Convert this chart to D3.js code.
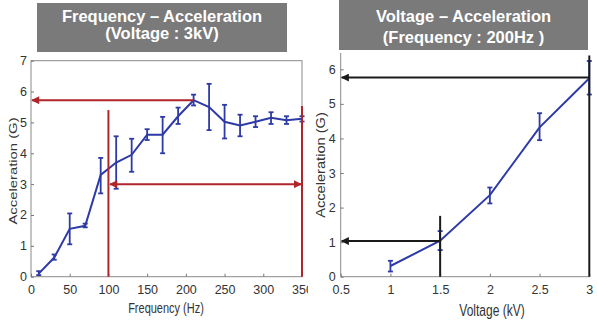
<!DOCTYPE html>
<html>
<head>
<meta charset="utf-8">
<script src="https://cdn.jsdelivr.net/npm/d3@7"></script>
<style>
  body { margin: 0; background: #fff; }
  svg text { font-family: "Liberation Sans", Arial, sans-serif; fill: #333; }
  svg text.title { font-weight: bold; fill: #fff; }
</style>
</head>
<body>
<svg id="chart" width="597" height="327"></svg>
<script>
// Frequency sweep at 3 kV
var freq = [10, 30, 50, 70, 90, 110, 130, 150, 170, 190, 210, 230, 250, 270, 290, 310, 330, 350];
var freqAcc = [0.1, 0.62, 1.55, 1.65, 3.3, 3.7, 3.95, 4.6, 4.6, 5.2, 5.72, 5.5, 5.02, 4.9, 5.02, 5.15, 5.07, 5.12];
var freqLo = [0.05, 0.55, 1.05, 1.6, 2.7, 2.85, 3.4, 4.43, 4.0, 4.95, 5.55, 4.75, 4.48, 4.55, 4.85, 4.95, 4.95, 5.03];
var freqHi = [0.18, 0.72, 2.05, 1.72, 3.85, 4.55, 4.47, 4.78, 5.18, 5.48, 5.9, 6.25, 5.57, 5.25, 5.2, 5.33, 5.2, 5.2];
var freqTicks = [0, 50, 100, 150, 200, 250, 300, 350];
var accTicksL = [0, 1, 2, 3, 4, 5, 6, 7];

// Voltage sweep at 200 Hz
var volt = [1, 1.5, 2, 2.5, 3];
var voltAcc = [0.31, 1.04, 2.36, 4.32, 5.74];
var voltLo = [0.15, 0.77, 2.12, 3.95, 5.27];
var voltHi = [0.46, 1.32, 2.58, 4.73, 6.24];
var voltTicks = [0.5, 1, 1.5, 2, 2.5, 3];
var accTicksR = [0, 1, 2, 3, 4, 5, 6];

var svg = d3.select("#chart");
var blue = "#2e3aa6", red = "#b0242a", black = "#1a1a1a";

var defs = svg.append("defs");
// left panel is cut off where the right one starts (the "350" label is cropped)
defs.append("clipPath").attr("id", "clipL")
  .append("rect").attr("x", 0).attr("y", 0).attr("width", 308).attr("height", 327);

// arrow heads
function marker(id, color) {
  defs.append("marker")
    .attr("id", id)
    .attr("viewBox", "0 0 10 10")
    .attr("refX", 9).attr("refY", 5)
    .attr("markerWidth", 4.5).attr("markerHeight", 4)
    .attr("orient", "auto-start-reverse")
    .append("path").attr("d", "M0,0L10,5L0,10z").attr("fill", color);
}
marker("arRed", red);
marker("arBlack", black);

// title boxes
function titleBox(x, y, w, h, lines, base, gap) {
  svg.append("rect").attr("x", x).attr("y", y).attr("width", w).attr("height", h).attr("fill", "#7a7a7a");
  lines.forEach(function(t, i) {
    svg.append("text").attr("class", "title")
      .attr("x", x + w / 2).attr("y", base + i * gap)
      .attr("text-anchor", "middle").style("font-size", "16.5px")
      .text(t);
  });
}
titleBox(37, 3, 250, 49, ["Frequency \u2013 Acceleration", "(Voltage : 3kV)"], 21.7, 17.6);
titleBox(339, 0, 249, 50, ["Voltage \u2013 Acceleration", "(Frequency : 200Hz )"], 21.7, 21);

function drawErr(g, xs, ys, lo, hi, x, y) {
  var data = xs.map(function(d, i) { return {x: d, y: ys[i], lo: lo[i], hi: hi[i]}; });
  var line = d3.line().x(function(d) { return x(d.x); }).y(function(d) { return y(d.y); });
  g.append("path").datum(data).attr("d", line)
    .attr("fill", "none").attr("stroke", blue).attr("stroke-width", 2);
  var eb = g.selectAll(".eb").data(data).enter().append("g");
  eb.append("line")
    .attr("x1", function(d) { return x(d.x); }).attr("x2", function(d) { return x(d.x); })
    .attr("y1", function(d) { return y(d.lo); }).attr("y2", function(d) { return y(d.hi); })
    .attr("stroke", blue).attr("stroke-width", 1.8);
  ["lo", "hi"].forEach(function(k) {
    eb.append("line")
      .attr("x1", function(d) { return x(d.x) - 2.5; }).attr("x2", function(d) { return x(d.x) + 2.5; })
      .attr("y1", function(d) { return y(d[k]); }).attr("y2", function(d) { return y(d[k]); })
      .attr("stroke", blue).attr("stroke-width", 1.8);
  });
}

function styleAxis(a) {
  a.select(".domain").remove();
  a.selectAll("line").attr("stroke", "#777");
  a.selectAll("text").style("font-size", "12.5px").attr("fill", "#333");
}

// ---- left chart ----
var xL = d3.scaleLinear().domain([0, 350]).range([31, 302]);
var yL = d3.scaleLinear().domain([0, 7]).range([276.7, 60.7]);
var gL = svg.append("g").attr("clip-path", "url(#clipL)");

gL.append("rect").attr("x", 31).attr("y", 60.7).attr("width", 271).attr("height", 216)
  .attr("fill", "none").attr("stroke", "#8a8a8a").attr("stroke-width", 1);

gL.append("g").attr("transform", "translate(0,276.7)")
  .call(d3.axisBottom(xL).tickValues(freqTicks).tickSize(-3).tickPadding(8).tickFormat(d3.format("d")))
  .call(styleAxis);
gL.append("g").attr("transform", "translate(31,0)")
  .call(d3.axisLeft(yL).tickValues(accTicksL).tickSize(-3).tickPadding(4).tickFormat(d3.format("d")))
  .call(styleAxis);

gL.append("text").attr("transform", "translate(166,313) scale(1,1.35)").attr("text-anchor", "middle")
  .style("font-size", "11px").text("Frequency (Hz)");
gL.append("text").attr("transform", "translate(17,171) scale(1,1.35) rotate(-90)").attr("text-anchor", "middle")
  .style("font-size", "11px").text("Acceleration (G)");

drawErr(gL, freq, freqAcc, freqLo, freqHi, xL, yL);

// red guides
gL.append("line").attr("x1", xL(210)).attr("x2", xL(0) + 1).attr("y1", yL(5.72)).attr("y2", yL(5.72))
  .attr("stroke", red).attr("stroke-width", 2).attr("marker-end", "url(#arRed)");
gL.append("line").attr("x1", xL(100)).attr("x2", xL(100)).attr("y1", yL(0)).attr("y2", yL(5.4))
  .attr("stroke", red).attr("stroke-width", 2);
gL.append("line").attr("x1", xL(350)).attr("x2", xL(350)).attr("y1", yL(0)).attr("y2", yL(5.53))
  .attr("stroke", red).attr("stroke-width", 2);
gL.append("line").attr("x1", xL(102)).attr("x2", xL(349)).attr("y1", yL(3)).attr("y2", yL(3))
  .attr("stroke", red).attr("stroke-width", 2)
  .attr("marker-start", "url(#arRed)").attr("marker-end", "url(#arRed)");

// ---- right chart ----
var xR = d3.scaleLinear().domain([0.5, 3]).range([340.7, 589.3]);
var yR = d3.scaleLinear().domain([0, 6]).range([276.7, 69.3]);
var gR = svg.append("g");

gR.append("line").attr("x1", 340.7).attr("x2", 340.7).attr("y1", 53).attr("y2", 276.7).attr("stroke", "#8a8a8a");
gR.append("line").attr("x1", 340.7).attr("x2", 590).attr("y1", 276.7).attr("y2", 276.7).attr("stroke", "#8a8a8a");

gR.append("g").attr("transform", "translate(0,276.7)")
  .call(d3.axisBottom(xR).tickValues(voltTicks).tickSize(-3).tickPadding(8).tickFormat(d3.format("")))
  .call(styleAxis);
gR.append("g").attr("transform", "translate(340.7,0)")
  .call(d3.axisLeft(yR).tickValues(accTicksR).tickSize(-3).tickPadding(5).tickFormat(d3.format("d")))
  .call(styleAxis);

gR.append("text").attr("transform", "translate(492,316) scale(1,1.3)").attr("text-anchor", "middle")
  .style("font-size", "12px").text("Voltage (kV)");
gR.append("text").attr("transform", "translate(325,165) scale(1,1.22) rotate(-90)").attr("text-anchor", "middle")
  .style("font-size", "12px").text("Acceleration (G)");

drawErr(gR, volt, voltAcc, voltLo, voltHi, xR, yR);

// black guides
gR.append("line").attr("x1", xR(3)).attr("x2", xR(0.5) + 1).attr("y1", yR(5.76)).attr("y2", yR(5.76))
  .attr("stroke", black).attr("stroke-width", 2).attr("marker-end", "url(#arBlack)");
gR.append("line").attr("x1", xR(3)).attr("x2", xR(3)).attr("y1", yR(0)).attr("y2", yR(6.4))
  .attr("stroke", black).attr("stroke-width", 2);
gR.append("line").attr("x1", xR(1.5)).attr("x2", xR(1.5)).attr("y1", yR(0)).attr("y2", yR(1.76))
  .attr("stroke", black).attr("stroke-width", 2);
gR.append("line").attr("x1", xR(1.5)).attr("x2", xR(0.5) + 1).attr("y1", yR(1.03)).attr("y2", yR(1.03))
  .attr("stroke", black).attr("stroke-width", 2).attr("marker-end", "url(#arBlack)");
</script>
</body>
</html>
